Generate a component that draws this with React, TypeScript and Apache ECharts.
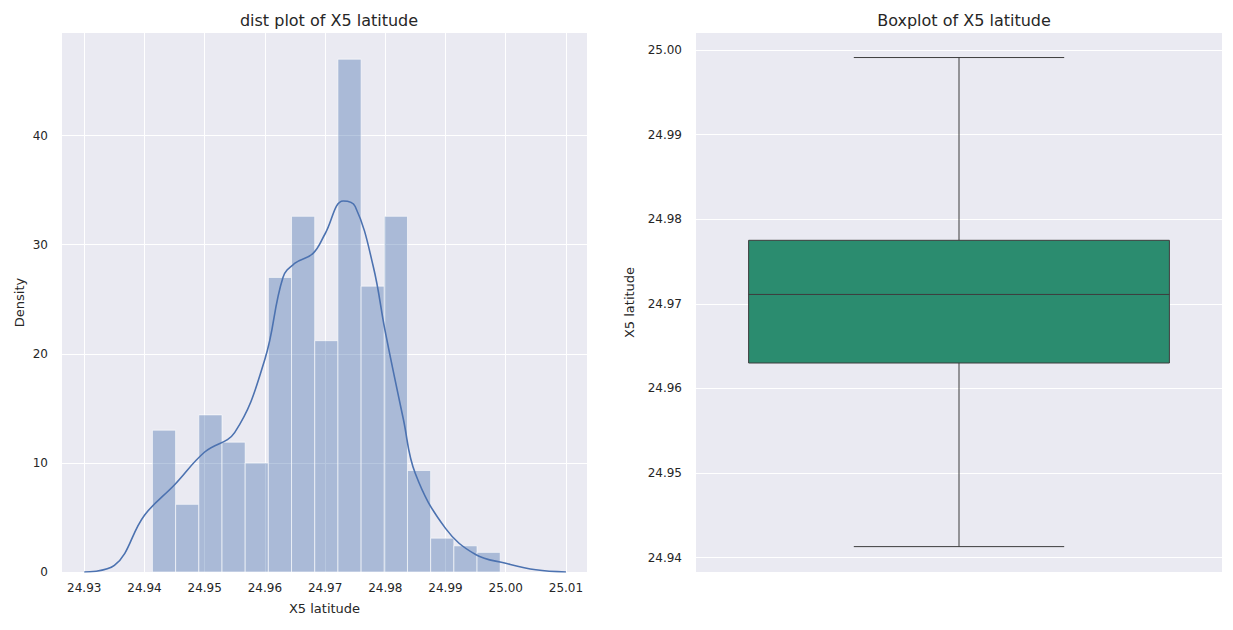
import { useEffect, useRef } from 'react'
import * as echarts from 'echarts'

// histogram bins (left edge) and densities
const binStart = 24.94132
const binWidth = 0.003851
const binHeights = [13.0, 6.2, 14.4, 11.9, 10.0, 27.0, 32.6, 21.2, 47.0, 26.2, 32.6, 9.3, 3.1, 2.4, 1.8]

// kde curve points [x, density]
const kdeX = [24.93, 24.935, 24.94, 24.945, 24.95, 24.955, 24.96, 24.963, 24.965, 24.968, 24.97, 24.973, 24.975, 24.978, 24.98, 24.983, 24.985, 24.99, 24.995, 25.0, 25.005, 25.01]
const kdeY = [0, 0.6, 5.2, 8.0, 11.0, 12.8, 19.5, 27.0, 28.3, 29.2, 31.0, 34.0, 33.5, 28.0, 22.0, 14.0, 9.0, 4.0, 1.6, 0.8, 0.2, 0]

const xTicks = [24.93, 24.94, 24.95, 24.96, 24.97, 24.98, 24.99, 25.0, 25.01]
const densityTicks = [0, 10, 20, 30, 40]
const boxTicks = [24.94, 24.95, 24.96, 24.97, 24.98, 24.99, 25.0]

// boxplot stats: min, q1, median, q3, max
const boxStats = [24.9413, 24.963, 24.9711, 24.9775, 24.9991]

const txt = { color: '#262626', fontSize: 12, fontFamily: 'DejaVu Sans' }

const App: React.FC = () => {
  const ref = useRef<HTMLDivElement>(null)

  useEffect(() => {
    document.body.style.margin = '0'
    if (!ref.current) return
    const chart = echarts.init(ref.current, null, { renderer: 'svg' })
    const gridBase = { show: true, backgroundColor: '#eaeaf2', borderWidth: 0, top: 33, bottom: 58 }
    const split = { show: true, lineStyle: { color: '#ffffff', width: 1 } }
    chart.setOption({
      animation: false,
      title: [
        { text: 'dist plot of X5 latitude', left: 324, top: 7, textAlign: 'center', textStyle: { ...txt, fontSize: 16, fontWeight: 'normal' } },
        { text: 'Boxplot of X5 latitude', left: 959, top: 7, textAlign: 'center', textStyle: { ...txt, fontSize: 16, fontWeight: 'normal' } }
      ],
      grid: [
        { ...gridBase, left: 62, right: 646 },
        { ...gridBase, left: 696, right: 11 }
      ],
      xAxis: [
        {
          gridIndex: 0, type: 'value', min: 24.9263, max: 25.0135,
          name: 'X5 latitude', nameLocation: 'middle', nameGap: 30, nameTextStyle: { ...txt, fontSize: 13 },
          axisLine: { show: false },
          axisTick: { show: true, length: 0, customValues: xTicks },
          axisLabel: { ...txt, margin: 10, customValues: xTicks, formatter: (v: number) => v.toFixed(2) },
          splitLine: split
        },
        {
          gridIndex: 1, type: 'category', data: ['a'],
          axisLine: { show: false }, axisTick: { show: false }, axisLabel: { show: false }, splitLine: { show: false }
        }
      ],
      yAxis: [
        {
          gridIndex: 0, type: 'value', min: 0, max: 49.4,
          name: 'Density', nameLocation: 'middle', nameGap: 36, nameTextStyle: { ...txt, fontSize: 13 },
          axisLine: { show: false },
          axisTick: { show: true, length: 0, customValues: densityTicks },
          axisLabel: { ...txt, margin: 14, customValues: densityTicks },
          splitLine: split
        },
        {
          gridIndex: 1, type: 'value', min: 24.9383, max: 25.002,
          name: 'X5 latitude', nameLocation: 'middle', nameGap: 60, nameTextStyle: { ...txt, fontSize: 13 },
          axisLine: { show: false },
          axisTick: { show: true, length: 0, customValues: boxTicks },
          axisLabel: { ...txt, margin: 14, customValues: boxTicks, formatter: (v: number) => v.toFixed(2) },
          splitLine: split
        }
      ],
      series: [
        {
          type: 'custom', xAxisIndex: 0, yAxisIndex: 0,
          data: binHeights.map((h, i) => [binStart + i * binWidth, h]),
          renderItem: (_p: any, api: any) => {
            const x0 = api.value(0)
            const h = api.value(1)
            const a = api.coord([x0, h])
            const b = api.coord([x0 + binWidth, 0])
            return {
              type: 'rect',
              shape: { x: a[0], y: a[1], width: b[0] - a[0], height: b[1] - a[1] },
              style: { fill: 'rgba(76,114,176,0.4)', stroke: 'rgba(255,255,255,0.6)', lineWidth: 1 }
            }
          }
        },
        {
          type: 'line', xAxisIndex: 0, yAxisIndex: 0, smooth: 0.4, showSymbol: false,
          lineStyle: { color: '#4c72b0', width: 1.6 },
          data: kdeX.map((x, i) => [x, kdeY[i]])
        },
        {
          type: 'custom', xAxisIndex: 1, yAxisIndex: 1,
          data: [[0, ...boxStats]],
          renderItem: (_p: any, api: any) => {
            const w = api.size([1, 0])[0]
            const cx = api.coord([0, boxStats[2]])[0]
            const y = (v: number) => api.coord([0, v])[1]
            const hb = w * 0.4
            const hc = w * 0.2
            const ls = { stroke: '#3d3d3d', lineWidth: 1 }
            return {
              type: 'group',
              children: [
                { type: 'line', shape: { x1: cx, y1: y(api.value(1)), x2: cx, y2: y(api.value(2)) }, style: ls },
                { type: 'line', shape: { x1: cx, y1: y(api.value(4)), x2: cx, y2: y(api.value(5)) }, style: ls },
                { type: 'line', shape: { x1: cx - hc, y1: y(api.value(1)), x2: cx + hc, y2: y(api.value(1)) }, style: ls },
                { type: 'line', shape: { x1: cx - hc, y1: y(api.value(5)), x2: cx + hc, y2: y(api.value(5)) }, style: ls },
                { type: 'rect', shape: { x: cx - hb, y: y(api.value(4)), width: hb * 2, height: y(api.value(2)) - y(api.value(4)) }, style: { fill: '#2b8c6f', ...ls } },
                { type: 'line', shape: { x1: cx - hb, y1: y(api.value(3)), x2: cx + hb, y2: y(api.value(3)) }, style: ls }
              ]
            }
          }
        }
      ]
    })
    return () => chart.dispose()
  }, [])

  return <div ref={ref} style={{ width: 1233, height: 630 }} />
}

export default App
